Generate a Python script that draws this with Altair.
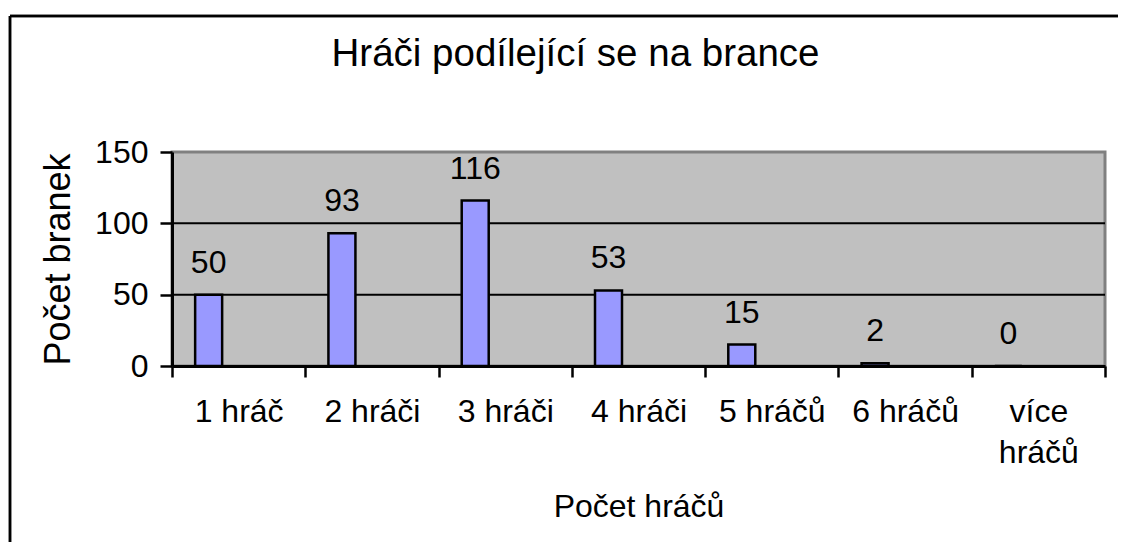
import altair as alt
import pandas as pd

categories = ["1 hráč", "2 hráči", "3 hráči", "4 hráči", "5 hráčů", "6 hráčů", "více hráčů"]
goals = [50, 93, 116, 53, 15, 2, 0]
y_ticks = [0, 50, 100, 150]
grid_values = [50, 100]

df = pd.DataFrame({"cat": categories, "n": goals})
grid_df = pd.DataFrame({"g": grid_values})

FONT = "Liberation Sans"

x_scale = alt.Scale(paddingInner=0, paddingOuter=0)
y_scale = alt.Scale(domain=[0, 150], nice=False, zero=True)

x_axis = alt.Axis(
    title="Počet hráčů",
    labelAngle=0,
    tickBand="extent",
    tickSize=11,
    labelPadding=19,
    labelFontSize=32,
    labelLineHeight=41,
    labelOverlap=False,
    labelExpr="length(datum.label) > 8 ? split(datum.label, ' ') : datum.label",
    titleFontSize=32,
    titlePadding=23,
)
y_axis = alt.Axis(
    title="Počet branek",
    values=y_ticks,
    tickSize=12,
    labelPadding=12,
    labelFontSize=32,
    titleFontSize=36,
    titlePadding=17,
    grid=False,
)

base = alt.Chart(df)

grid = alt.Chart(grid_df).mark_rule(color="black", strokeWidth=2).encode(
    y=alt.Y("g:Q", scale=y_scale, axis=y_axis)
)

bars = base.mark_bar(size=27, xOffset=-30, fill="#9999FF", stroke="black", strokeWidth=2.5).encode(
    x=alt.X("cat:N", sort=categories, scale=x_scale, axis=x_axis),
    y=alt.Y("n:Q", scale=y_scale, axis=y_axis),
)

labels = base.mark_text(xOffset=-30, dy=-22, baseline="alphabetic", fontSize=32, font=FONT, color="black").encode(
    x=alt.X("cat:N", sort=categories),
    y=alt.Y("n:Q"),
    text=alt.Text("n:Q"),
)

border_left = alt.Chart(grid_df).mark_rule(color="black", strokeWidth=2.5).encode(
    x=alt.value(-162), y=alt.value(-136), y2=alt.value(600)
)
border_top = alt.Chart(grid_df).mark_rule(color="black", strokeWidth=2.5).encode(
    x=alt.value(-162), x2=alt.value(1100), y=alt.value(-136)
)

chart = alt.layer(grid, bars, labels, border_left, border_top).properties(
    width=933,
    height=214,
    autosize="none",
    padding={"left": 164, "top": 144, "right": 13, "bottom": 176},
    background="white",
    title=alt.TitleParams(
        "Hráči podílející se na brance",
        fontSize=38.5,
        font=FONT,
        fontWeight="normal",
        color="black",
        anchor="middle",
        baseline="alphabetic",
        dx=-63,
        dy=90,
        offset=0,
    ),
).configure_view(
    fill="#C0C0C0", stroke="#808080", strokeWidth=3
).configure_axis(
    domainColor="black", domainWidth=3, tickColor="black", tickWidth=2.5,
    labelColor="black", titleColor="black", labelFont=FONT, titleFont=FONT,
    titleFontWeight="normal", labelFontWeight="normal",
)

chart.save("out.html", embed_options={"renderer": "svg", "actions": False})
